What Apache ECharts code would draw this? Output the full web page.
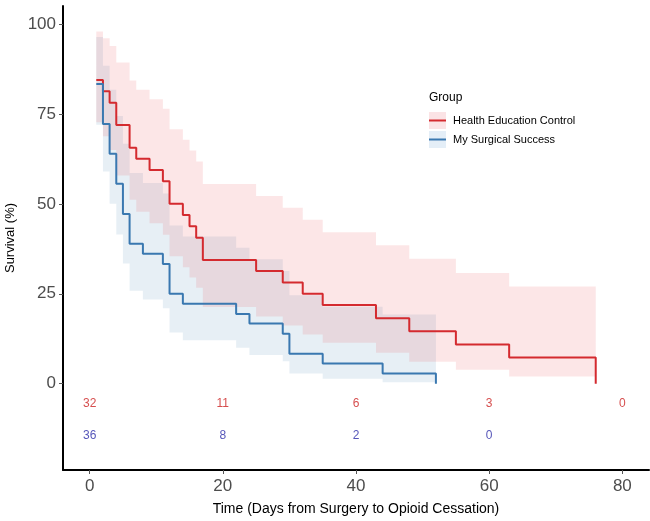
<!DOCTYPE html>
<html>
<head>
<meta charset="utf-8">
<script src="https://cdn.jsdelivr.net/npm/echarts@6.0.0/dist/echarts.min.js"></script>
<style>
html,body{margin:0;padding:0;background:#fff;}
#main{width:650px;height:521px;}
</style>
</head>
<body>
<div id="main"></div>
<script>
/* Kaplan-Meier data */
var groups = ["Health Education Control", "My Surgical Success"];

// Health Education Control
var hecTime  = [1,2,3,4,6,7,9,11,12,14,15,16,17,25,29,32,35,43,48,55,63,76];
var hecSurv  = [84.4,81.3,78.1,71.9,65.6,62.5,59.4,56.3,50,46.9,43.8,40.6,34.4,31.3,28.1,25,21.9,18.2,14.6,10.9,7.3,0];
var hecLower = [72.7,68.8,65.0,57.9,51.1,47.8,44.6,41.4,35.4,32.4,29.5,26.7,21.3,18.7,16.2,13.7,11.4,8.6,6.1,3.9,2.0];
var hecUpper = [97.9,96.0,93.9,89.3,84.3,81.7,79.1,76.4,70.7,67.8,64.8,61.8,55.5,52.2,48.9,45.6,42.1,38.5,34.7,30.8,27.0];

// My Surgical Success
var mssTime  = [1,2,3,4,5,6,8,11,12,14,22,24,29,30,35,44,52];
var mssSurv  = [83.3,72.2,63.9,55.6,47.2,38.9,36.1,33.3,25,22.2,19.4,16.7,13.9,8.3,5.6,2.8,0];
var mssLower = [72.0,59.0,50.0,41.5,33.4,25.8,23.4,21.0,14.2,12.1,10.0,8.0,6.2,2.8,1.4,0.4];
var mssUpper = [96.4,88.4,81.7,74.4,66.7,58.6,55.8,52.9,44.0,40.9,37.8,34.6,31.3,24.6,21.4,19.2];

// number at risk table
var riskTimes = [0,20,40,60,80];
var hecRisk = [32,11,6,3,0];
var mssRisk = [36,8,2,0];

var xTicks = [0,20,40,60,80];
var yTicks = [0,25,50,75,100];

var hecColor = "#D42A2F", mssColor = "#3A78B0";
var hecFill = "rgba(232,60,70,0.13)", mssFill = "rgba(58,120,176,0.12)";
var hecRiskColor = "#CC2222", mssRiskColor = "#2B2BA8";
var hecRowY = -5.6, mssRowY = -14.4;   // rows of the risk table
var font = "'Liberation Sans', Arial, sans-serif";

function pairs(t, v){
    var out = [];
    for(var i=0;i<v.length;i++){ out.push([t[i], v[i]]); }
    return out;
}
// one row per interval: [start, end, lower, upper]
function bandRows(t, lo, up){
    var out = [];
    for(var i=0;i<lo.length;i++){ out.push([t[i], t[i+1], lo[i], up[i]]); }
    return out;
}
function riskData(t, n, rowY){
    var out = [];
    for(var i=0;i<n.length;i++){ out.push([t[i], rowY, n[i]]); }
    return out;
}
/*confidence band as one stepped polygon*/
function band(name, rows, fill){
    return {
        name: name, type: "custom", silent: true, z: 1,
        data: rows,
        encode: {x: [0,1], y: [2,3]},
        renderItem: function(params, api){
            if(params.dataIndex !== 0) return null;
            var pts = [], i;
            for(i=0;i<rows.length;i++){
                pts.push(api.coord([rows[i][0], rows[i][3]]));
                pts.push(api.coord([rows[i][1], rows[i][3]]));
            }
            for(i=rows.length-1;i>=0;i--){
                pts.push(api.coord([rows[i][1], rows[i][2]]));
                pts.push(api.coord([rows[i][0], rows[i][2]]));
            }
            return {type: "polygon", shape: {points: pts}, style: {fill: fill}};
        }
    };
}
function curve(name, data, color){
    return {
        name: name, type: "line", step: "end", data: data, color: color,
        showSymbol: false, z: 3,
        lineStyle: {color: color, width: 2}
    };
}
function risk(data, color){
    return {
        type: "scatter", data: data, symbolSize: 1, silent: true, z: 4,
        itemStyle: {color: "transparent"},
        label: {show: true, position: "inside", color: color, fontSize: 12, fontFamily: font,
            formatter: function(p){ return String(p.data[2]); }}
    };
}

var chart = echarts.init(document.getElementById("main"));
chart.setOption({
    animation: false,
    backgroundColor: "#fff",
    textStyle: {fontFamily: font},
    title: {text: "Group", left: 429, top: 92, padding: 0, textStyle: {fontSize: 12, fontWeight: "normal", color: "#000", fontFamily: font}},
    legend: [{
        // pale square keys
        orient: "vertical", left: 429, top: 112, padding: 0, itemWidth: 17, itemHeight: 17, itemGap: 2,
        icon: "rect", selectedMode: false, formatter: function(){ return ""; },
        data: [{name: groups[0], itemStyle: {color: "#FBE3E5"}}, {name: groups[1], itemStyle: {color: "#E4EEF7"}}]
    },{
        // line keys with text
        orient: "vertical", left: 429, top: 112, padding: 0, itemWidth: 17, itemHeight: 2, itemGap: 2,
        icon: "rect", selectedMode: false,
        textStyle: {fontSize: 11, color: "#000", lineHeight: 17, padding: [0,0,0,2], fontFamily: font},
        data: [{name: groups[0], itemStyle: {color: hecColor}}, {name: groups[1], itemStyle: {color: mssColor}}]
    }],
    grid: {left: 63, right: 1, top: 6, bottom: 51, outerBoundsMode: "none", containLabel: false},
    xAxis: {
        type: "value", min: -4, max: 84,
        name: "Time (Days from Surgery to Opioid Cessation)", nameLocation: "middle", nameGap: 32,
        nameTextStyle: {fontSize: 14, color: "#000"},
        axisLine: {onZero: false, lineStyle: {color: "#000", width: 2}},
        axisTick: {show: true, length: 4, customValues: xTicks, lineStyle: {color: "#555"}},
        axisLabel: {customValues: xTicks, fontSize: 17, color: "#4D4D4D", margin: 8},
        splitLine: {show: false}
    },
    yAxis: {
        type: "value", min: -24, max: 105,
        name: "Survival (%)", nameLocation: "middle", nameGap: 44, nameRotate: 90,
        nameTextStyle: {fontSize: 13, color: "#000"},
        axisLine: {show: true, onZero: false, lineStyle: {color: "#000", width: 2}},
        axisTick: {show: true, length: 4, customValues: yTicks, lineStyle: {color: "#555"}},
        axisLabel: {customValues: yTicks, fontSize: 17, color: "#4D4D4D", margin: 7},
        splitLine: {show: false}
    },
    series: [
        band("mssBand", bandRows(mssTime, mssLower, mssUpper), mssFill),
        band("hecBand", bandRows(hecTime, hecLower, hecUpper), hecFill),
        curve(groups[0], pairs(hecTime, hecSurv), hecColor),
        curve(groups[1], pairs(mssTime, mssSurv), mssColor),
        risk(riskData(riskTimes, hecRisk, hecRowY), hecRiskColor),
        risk(riskData(riskTimes, mssRisk, mssRowY), mssRiskColor)
    ]
});
</script>
</body>
</html>
